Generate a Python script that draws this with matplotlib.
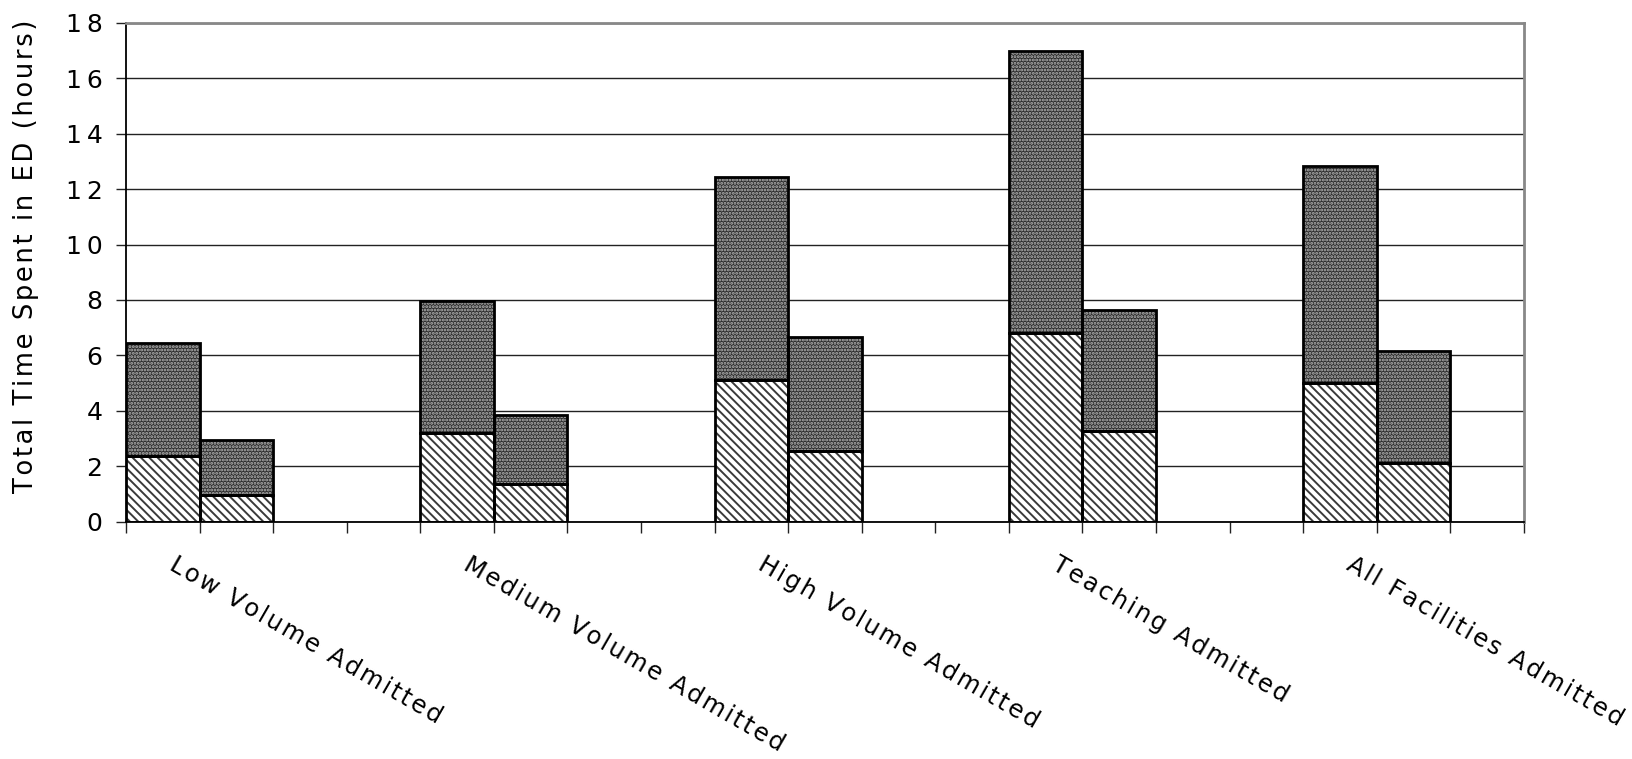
import numpy as np
import matplotlib
matplotlib.use("Agg")
from matplotlib import pyplot as plt

plt.rcParams['font.family'] = ['DejaVu Sans']
plt.rcParams['hatch.linewidth'] = 1.4

categories = ['Low Volume Admitted', 'Medium Volume Admitted', 'High Volume Admitted',
              'Teaching Admitted', 'All Facilities Admitted']
# first bar of each group (lower hatched part, upper dotted part)
first_lower = [2.35, 3.2, 5.1, 6.8, 5.0]
first_upper = [4.1, 4.75, 7.35, 10.2, 7.85]
# second bar of each group
second_lower = [0.95, 1.35, 2.55, 3.25, 2.1]
second_upper = [2.0, 2.5, 4.1, 4.4, 4.05]
yticks = [0, 2, 4, 6, 8, 10, 12, 14, 16, 18]

n_slots = 19
group_start = np.arange(len(categories)) * 4


def spaced(s, sep='\u200a'):
    # wide letter spacing like the original export
    return sep.join(s)


fig = plt.figure(figsize=(16.32, 7.59), dpi=100)
ax = fig.add_axes([0.0772, 0.3129, 0.8566, 0.6568])


def seg(x, h, bottom, face, hcol, hatch):
    ax.bar(x, h, bottom=bottom, width=1.0, align='edge', color=face,
           edgecolor=hcol, hatch=hatch, linewidth=0, zorder=2)
    ax.bar(x, h, bottom=bottom, width=1.0, align='edge', fill=False,
           edgecolor='black', linewidth=2, zorder=3)


low_face, low_hatch = 'white', '#3a3a3a'
up_face, up_hatch = '#2e2e2e', '#b5b5b5'

seg(group_start, first_lower, 0, low_face, low_hatch, '\\\\\\\\')
seg(group_start, first_upper, first_lower, up_face, up_hatch, '.....')
seg(group_start + 1, second_lower, 0, low_face, low_hatch, '\\\\\\\\')
seg(group_start + 1, second_upper, second_lower, up_face, up_hatch, '.....')

ax.set_xlim(0, n_slots)
ax.set_ylim(0, 18)
ax.set_yticks(yticks)
ax.set_yticklabels([spaced(str(v), '\u2009') for v in yticks], fontsize=18)
ax.set_xticks(np.arange(n_slots + 1))
ax.set_xticklabels([])
ax.tick_params(axis='y', direction='out', length=7, width=1, color='#222', pad=10)
ax.tick_params(axis='x', direction='out', length=8, width=1, color='#222')
ax.yaxis.grid(True, color='#222', linewidth=1)
ax.set_axisbelow(True)

for side in ['left', 'bottom']:
    ax.spines[side].set_color('black')
    ax.spines[side].set_linewidth(1.3)
for side in ['top', 'right']:
    ax.spines[side].set_color('#888888')
    ax.spines[side].set_linewidth(2)

for x0, name in zip(group_start, categories):
    ax.annotate(spaced(name), xy=(x0 + 0.7, 0), xycoords=('data', 'axes fraction'),
                xytext=(0, -22), textcoords='offset points', rotation=-30,
                rotation_mode='anchor', ha='left', va='top', fontsize=17.5)

fig.text(26 / 1632, 1 - 256 / 759, spaced('Total Time Spent in ED (hours)'),
         rotation=90, ha='center', va='center', fontsize=18.5)

fig.savefig('out.png', dpi=100)
